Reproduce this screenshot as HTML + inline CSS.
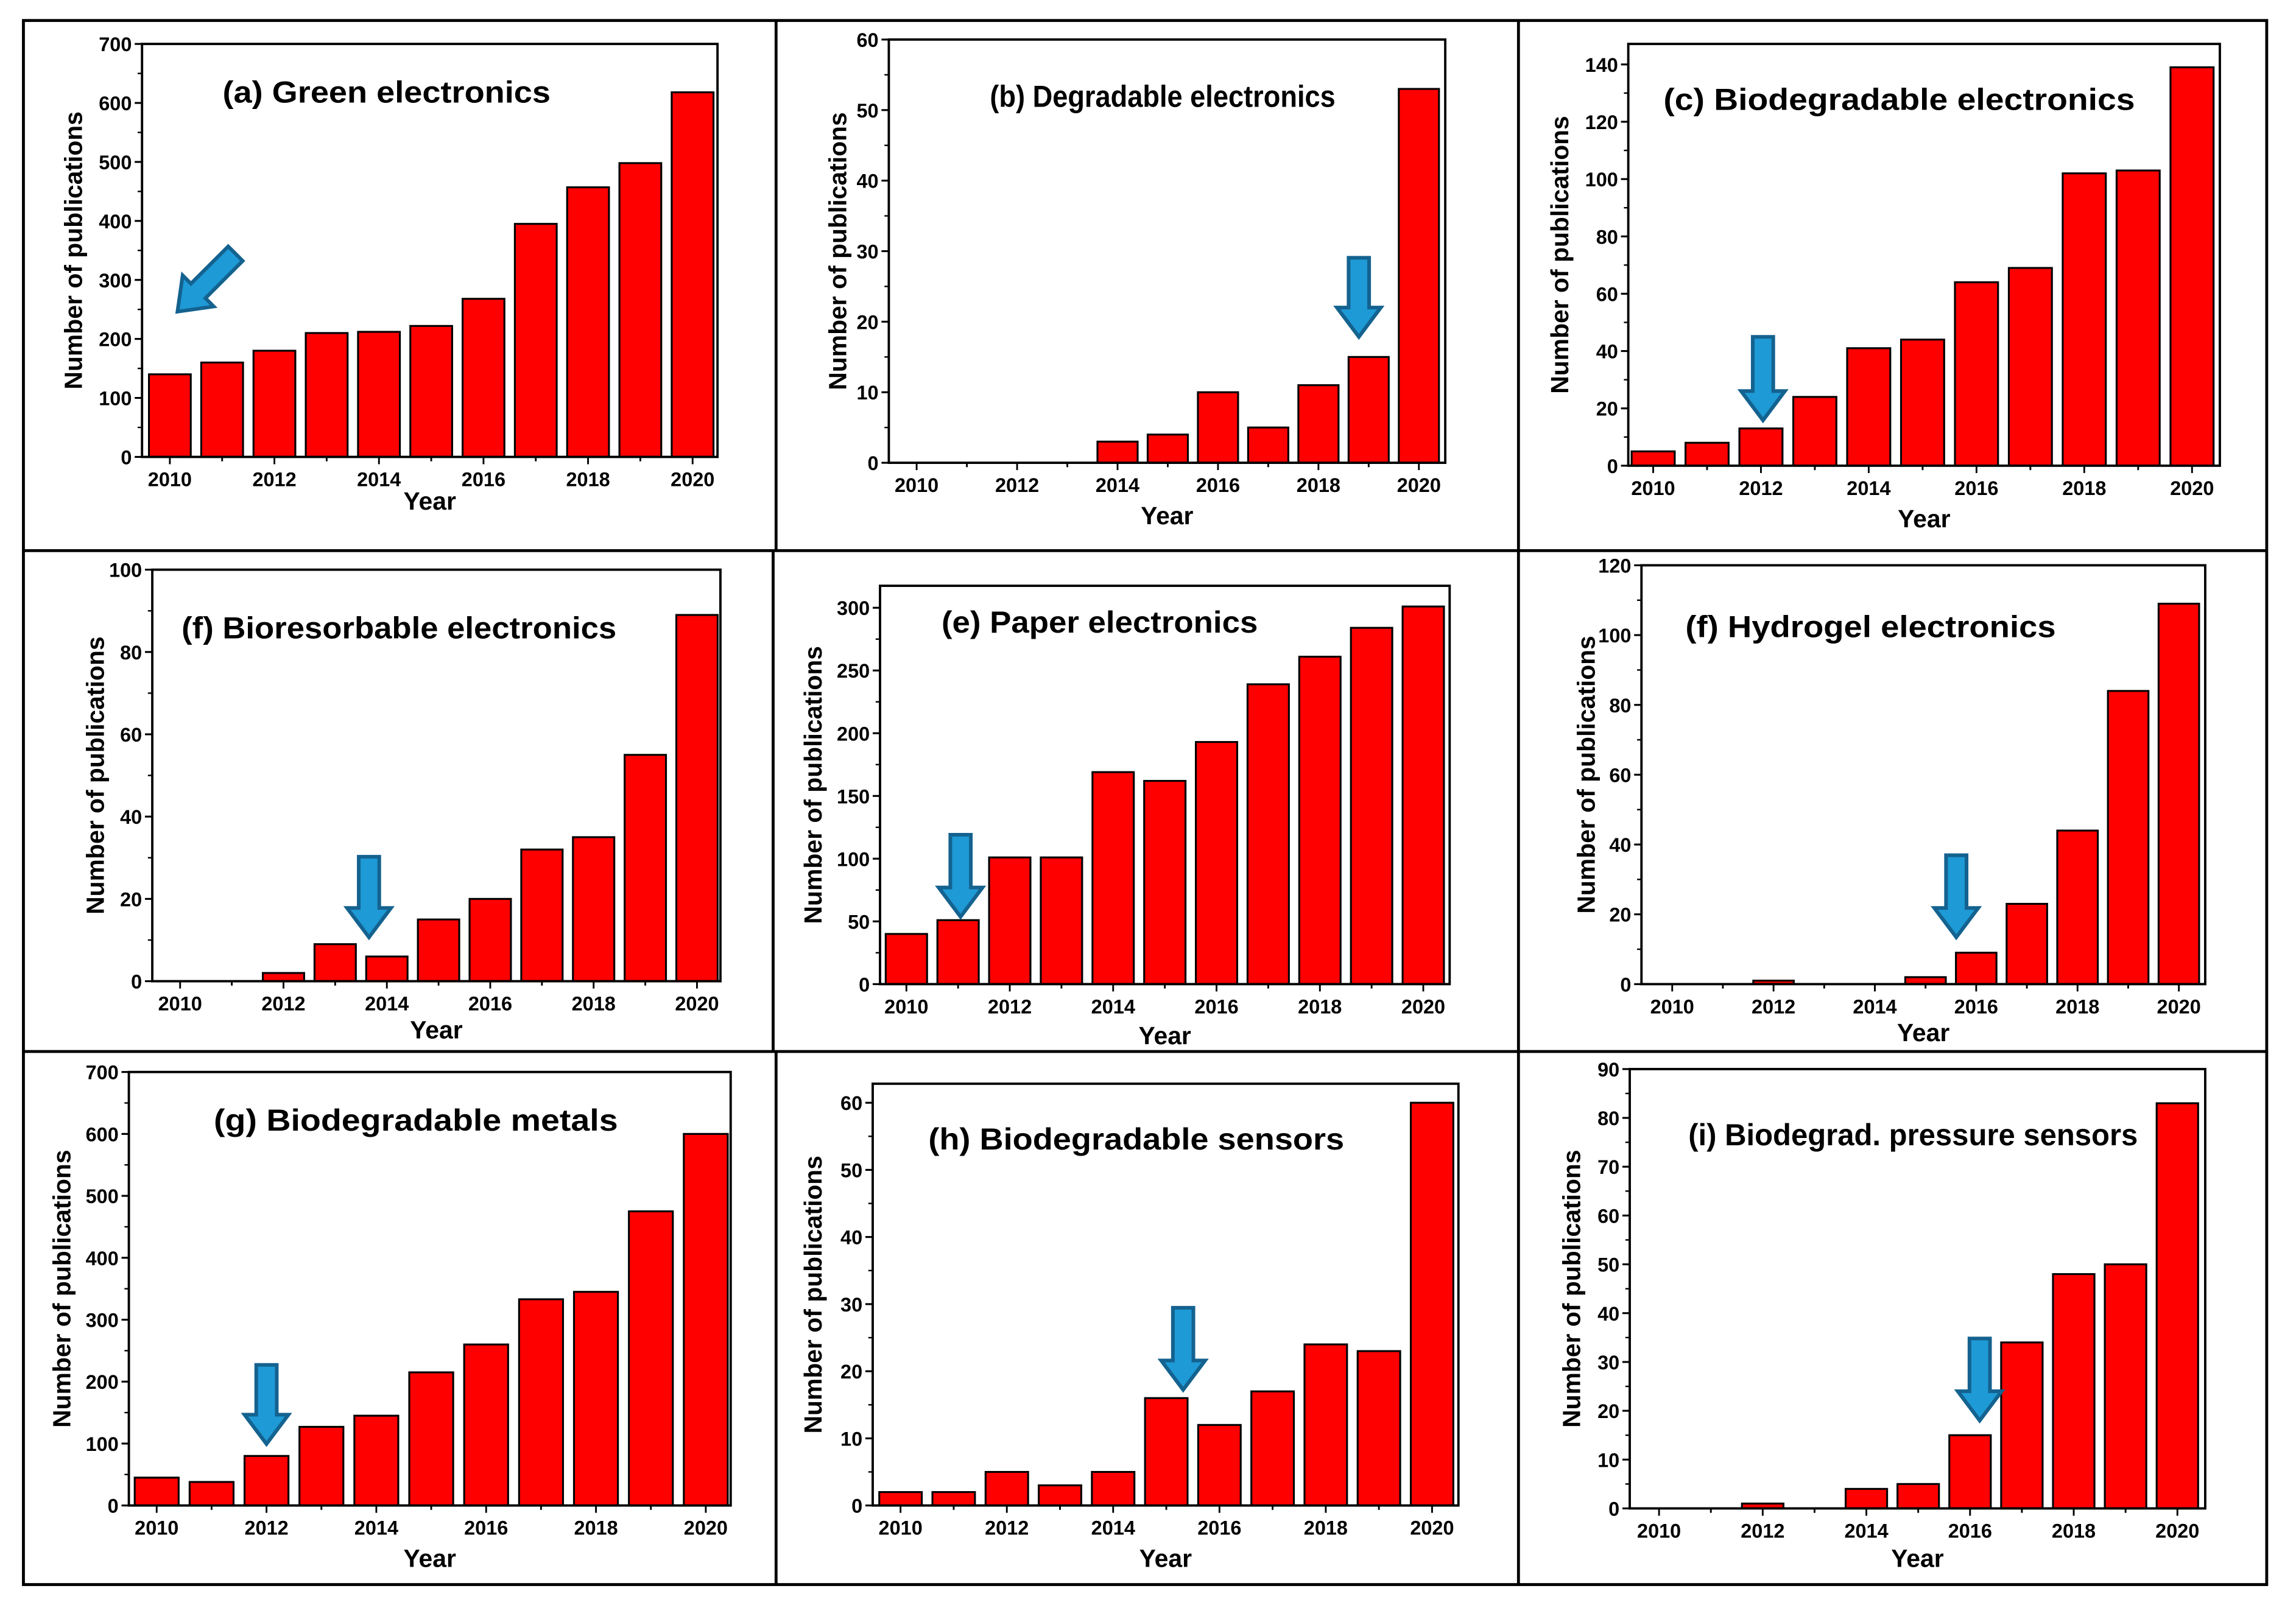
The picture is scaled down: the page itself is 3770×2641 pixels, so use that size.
<!DOCTYPE html>
<html><head><meta charset="utf-8"><style>
html,body{margin:0;padding:0;background:#fff}
svg{display:block}
text{font-family:"Liberation Sans",Arial,sans-serif;font-weight:bold;fill:#000}
</style></head><body>
<svg id="fig" xmlns="http://www.w3.org/2000/svg" width="3770" height="2641" viewBox="0 0 1568 1098" preserveAspectRatio="none">
<g id="frame" stroke="#000" stroke-width="2" fill="none">
<rect x="16" y="14" width="1532" height="1068"/>
<line x1="530" y1="14" x2="530" y2="376"/><line x1="530" y1="718" x2="530" y2="1082"/>
<line x1="528" y1="376" x2="528" y2="718"/>
<line x1="1037" y1="14" x2="1037" y2="1082"/>
<line x1="16" y1="376" x2="1548" y2="376"/><line x1="16" y1="718" x2="1548" y2="718"/>
</g>
</svg>
<script>
const years=[2010,2011,2012,2013,2014,2015,2016,2017,2018,2019,2020];
const valsA=[140,160,180,210,212,222,268,395,457,498,618];
const valsB=[0,0,0,0,3,4,10,5,11,15,53];
const valsC=[5,8,13,24,41,44,64,69,102,103,139];
const valsD=[0,0,2,9,6,15,20,32,35,55,89];
const valsE=[40,51,101,101,169,162,193,239,261,284,301];
const valsF=[0,0,1,0,0,2,9,23,44,84,109];
const valsG=[45,38,80,127,145,215,260,333,345,475,600];
const valsH=[2,2,5,3,5,16,12,17,24,23,60];
const valsI=[0,0,1,0,4,5,15,34,48,50,83];
const titles=["(a) Green electronics","(b) Degradable electronics","(c) Biodegradable electronics","(f) Bioresorbable electronics","(e) Paper electronics","(f) Hydrogel electronics","(g) Biodegradable metals","(h) Biodegradable sensors","(i) Biodegrad. pressure sensors"];
const titleLen=[224,236,322,297,216,253,276,284,307];
const tickStep=[100,10,20,20,50,20,100,10,10];
const tickMax=[700,60,140,100,300,120,700,60,90];
const allVals=[valsA,valsB,valsC,valsD,valsE,valsF,valsG,valsH,valsI];
const L=[
[97,490,30,312,30,116,473,152,70,50,348,0,0,0],
[607,987,27,316,27,626,969,676,73,572,358,928,176,230],
[1112,1516,30,318,44,1129,1497,1136,75,1065,360,1204,230,287],
[104,492,389,670,389,123,476,124,436,65,709,252,585,640],
[601,990,400,672,415,619,972,643,432,555,713,656,570,626],
[1121,1506,386,672,386,1142,1488,1151,435,1083,711,1336,584,640],
[88,499,732,1028,732,107,482,146,772,42,1070,182,932,986],
[596,996,740,1028,753,615,978,634,785,555,1070,808,893,949],
[1113,1506,730,1030,730,1133,1487,1153,782,1073,1070,1352,914,970]];
const NS="http://www.w3.org/2000/svg";
const svg=document.getElementById('fig');
function mk(tag,attrs,parent){const e=document.createElementNS(NS,tag);for(const k in attrs)e.setAttribute(k,attrs[k]);parent.appendChild(e);return e;}
function arrowPts(cx,y0,y1){const hl=20,sw=7,hw=15;return `${cx-sw},${y0} ${cx+sw},${y0} ${cx+sw},${y1-hl} ${cx+hw},${y1-hl} ${cx},${y1} ${cx-hw},${y1-hl} ${cx-sw},${y1-hl}`;}
for(let p=0;p<9;p++){
 const [x0,x1,yT,yB,yTick,xa,xb,tx,ty,ylx,yy,ax,ay0,ay1]=L[p];
 const vals=allVals[p];
 const g=mk('g',{},svg);
 
 
 const ys=v=>yB-(v/tickMax[p])*(yB-yTick);
 const xs=y=>xa+(y-2010)*(xb-xa)/10;
 const bw=(xb-xa)/10*0.8;
 for(let i=0;i<years.length;i++){
  const h=yB-ys(vals[i]);
  if(vals[i]<=0)continue;
  const r=mk('rect',{x:xs(years[i])-bw/2,y:ys(vals[i]),width:bw,height:h,fill:'#ff0000',stroke:'#000','stroke-width':1.3},g);
  
  
 }
 const fr=mk('rect',{x:x0,y:yT,width:x1-x0,height:yB-yT,fill:'none',stroke:'#000','stroke-width':1.6},g);
 
 
 for(let v=0;v<=tickMax[p]+1e-9;v+=tickStep[p]){
  const y=ys(v);
  mk('line',{x1:x0-5,x2:x0,y1:y,y2:y,stroke:'#000','stroke-width':1.3},g);
  const t=mk('text',{x:x0-7,y:y+5,'text-anchor':'end','font-size':13.5},g);
  
  
  t.textContent=v;
  const ym=ys(v+tickStep[p]/2);
  if(ym>=yT)mk('line',{x1:x0-3,x2:x0,y1:ym,y2:ym,stroke:'#000','stroke-width':1},g);
 }
 for(const yr of years){
  const x=xs(yr);
  mk('line',{x1:x,x2:x,y1:yB,y2:yB+(yr%2===0?5:3),stroke:'#000','stroke-width':1.2},g);
  if(yr%2===0){const t=mk('text',{x:x,y:yB+20,'text-anchor':'middle','font-size':13.5},g);
   
   
   t.textContent=yr;}
 }
 const tt=mk('text',{x:tx,y:ty,'font-size':21,textLength:titleLen[p],lengthAdjust:'spacingAndGlyphs'},g);
 
 
 tt.textContent=titles[p];
 const yl=mk('text',{x:0,y:0,'text-anchor':'middle','font-size':17,transform:`translate(${ylx+6},${(yT+yB)/2}) rotate(-90)`},g);
 
 
 yl.textContent='Number of publications';
 const xl=mk('text',{x:(x0+x1)/2,y:yy,'text-anchor':'middle','font-size':17},g);
 
 
 xl.textContent='Year';
 let pts, tr='';
 if(p===0){pts=arrowPts(0,-28,28);tr='translate(141,193) rotate(45)';}
 else{pts=arrowPts(ax,ay0,ay1);}
 const ar=mk('polygon',{points:pts,fill:'#1e9ad6',stroke:'#14628f','stroke-width':2.5,transform:tr},g);
 
 
}
</script>
</body></html>
